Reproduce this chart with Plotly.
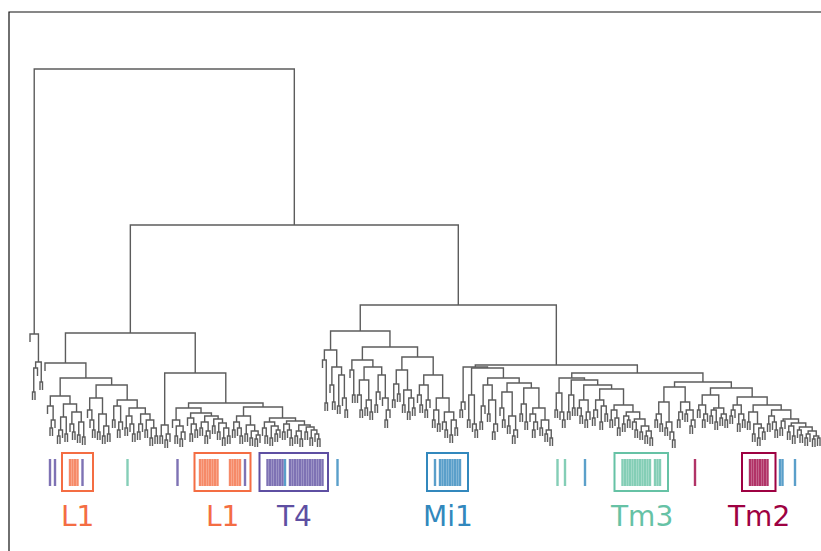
import plotly.graph_objects as go

# ---------------- data: dendrogram (Newick-like, 'o' = leaf, number = merge height) -------------
A = "(o,(((o,o)58,o)82,(o,o)68)88)116"

BL2a_L = "(o,((o,o)22,o)30)44"
BL2a_R1 = "(((o,o)14,o)20,(o,o)16)33"
BL2a_R2 = "((o,(o,o)18)26,((o,o)15,(o,o)13)28)38"
BL2b_Q1 = "((o,(o,(o,o)20)30)40,((o,o)18,((o,o)14,(o,o)16)24)36)52"
BL2b_Q2a = "((o,o)30,((o,o)20,o)28)44"
BL2b_Q2b = "(((o,o)22,(o,(o,o)16)26)34,(((o,o)18,o)26,((o,o)20,((o,o)12,(o,o)14)22)30)36)42"

BRL = "((o,o)14,((o,o)10,o)16)25"
S1a = "(o,((o,o)14,((o,o)11,o)18)24)30"
S1b = "((o,((o,o)16,(o,o)20)26)32,(((o,o)22,((o,o)14,o)19)28,((o,o)24,((o,o)18,((o,o)12,(o,o)14)22)27)31)34)37"
S2a = "(((o,o)20,(o,(o,o)14)22)28,((o,o)16,((o,o)12,((o,o)11,o)15)19)25)34"
S2b1 = "((o,(o,o)14)22,((o,o)12,((o,o)16,o)20)24)28"
S2b2 = "(((o,o)18,(o,(o,o)12)20)26,(((o,o)14,(o,o)11)19,((o,o)18,((o,o)12,(o,(o,o)11)16)20)23)25)29"

C1a_L = "(o,(o,o)47)90"
C1a_R1 = "(o,(o,o)48)65"
C1a_R2 = "((o,o)44,(o,(o,o)40)52)75"
C1b_L1 = "(o,(o,o)55)80"
C1b_L2a = "((o,(o,o)40)55,((o,o)42,(o,o)38)50)70"
C1b_L2b = "(((o,o)45,o)58,(o,((o,o)30,o)40)52)75"
C1b_R1 = "(((o,o)50,(o,o)56)66,((o,o)45,((o,o)38,(o,o)42)52)60)80"
C1b_R2a = "((o,(o,o)45)55,((o,o)40,o)50)65"
C1b_R2b = "(((o,o)30,(o,o)26)40,((o,(o,o)20)28,((o,o)15,(o,o)22)30)38)52"

P = "((o,o)40,o)48"
S_ = "((o,o)30,(o,(o,o)20)26)55"
T1 = "(((o,o)28,o)44,((o,o)36,((o,o)18,o)26)50)65"
T2a = "((o,(o,o)30)42,((o,o)24,((o,o)14,o)20)34)58"
T2b = "(((o,o)36,(o,o)28)46,((o,((o,o)20,o)28)36,((o,o)22,((o,o)16,(o,o)12)20)30)42)62"

U1 = "((o,o)40,(o,(o,o)30)38)57"
U2a = "((o,o)38,(o,o)42)55"
U2b1 = "((o,(o,o)34)42,((o,o)30,o)38)50"
U2b2a = "(((o,o)32,o)40,((o,o)28,(o,o)36)44)50"
U2b2b = "(((o,o)30,(o,(o,o)22)32)40,(((o,o)26,(o,o)30)34,((o,(o,o)20)28,((o,o)18,((o,o)14,(o,o)12)19)24)31)38)45"

V1a = "(((o,o)30,(o,o)26)36,((o,o)22,(o,(o,o)10)18)28)48"
V1b = "(((o,o)30,o)38,((o,o)36,((o,o)24,o)30)40)48"
V2a = "(((o,o)40,((o,o)30,o)36)45,(((o,o)34,(o,o)28)40,((o,o)32,(o,o)30)36)42)55"
V2b1 = "(((o,o)34,o)40,((o,o)26,(o,o)30)36)45"
Wa = "((o,o)28,((o,o)16,((o,o)12,(o,o)18)22)26)38"
Wb = "(((o,o)26,(o,(o,o)20)28)34,(((o,o)22,o)29,(((o,o)18,(o,o)14)24,((o,(o,o)15)20,(((o,o)12,o)16,((o,o)11,(o,o)12)14)19)23)27)31)40"

BL = f"(o,(({BL2a_L},({BL2a_R1},{BL2a_R2})46)54,({BL2b_Q1},({BL2b_Q2a},{BL2b_Q2b})50)65)72)87"
BR = f"({BRL},(({S1a},{S1b})42,({S2a},({S2b1},{S2b2})32)43)47)77"
C1a = f"({C1a_L},({C1a_R1},{C1a_R2})83)100"
C1 = f"({C1a},(({C1b_L1},({C1b_L2a},{C1b_L2b})83)90,({C1b_R1},({C1b_R2a},{C1b_R2b})75)93)103)119"
C2a = f"({P},({S_},({T1},({T2a},{T2b})67)72)82)83"
U = f"({U1},({U2a},({U2b1},({U2b2a},{U2b2b})61)65)70)72"
V = f"(({V1a},{V1b})63,({V2a},({V2b1},({Wa},{Wb})45)53)62)68"
C2 = f"({C2a},({U},{V})77)85"
B = f"({BL},{BR})117"
C = f"({C1},{C2})145"
TREE = f"({A},({B},{C})225)381"

# ---------------- data: labelled leaves (leaf index) per cell type ----------------
cell_types = ["L1", "T4", "Mi1", "Tm3", "Tm2"]
type_colors = {"L1": "#f46d43", "T4": "#5e4fa2", "Mi1": "#3288bd", "Tm3": "#66c2a5", "Tm2": "#9e0142"}
L1_leaves = [16, 17, 18, 19, 68, 69, 70, 71, 72, 73, 74, 75, 80, 81, 82, 83, 84]
T4_leaves = [8, 10, 21, 59, 86, 95, 96, 97, 98, 99, 100, 101,
             104, 105, 106, 107, 108, 109, 110, 111, 112, 113, 114, 115, 116, 117]
Mi1_leaves = [102, 123, 162, 164, 165, 166, 167, 168, 169, 170, 171, 172, 222, 300, 301, 306]
Tm3_leaves = [39, 211, 214, 237, 238, 239, 240, 241, 242, 243, 244, 245, 246, 247, 248, 250, 251, 252]
Tm2_leaves = [266, 288, 289, 290, 291, 292, 293, 294, 295]
leaves_by_type = {"L1": L1_leaves, "T4": T4_leaves, "Mi1": Mi1_leaves, "Tm3": Tm3_leaves, "Tm2": Tm2_leaves}

# boxed clusters: label, first leaf, last leaf
box_labels = ["L1", "L1", "T4", "Mi1", "Tm3", "Tm2"]
box_first = [13, 66, 92, 159, 234, 285]
box_last = [25, 88, 119, 175, 255, 298]

# ---------------- build dendrogram ----------------
STUB = 8.0


def parse(s):
    s = "".join(s.split())
    pos = 0

    def node():
        nonlocal pos
        if s[pos] == "o":
            pos += 1
            return None
        pos += 1  # '('
        left = node()
        pos += 1  # ','
        right = node()
        pos += 1  # ')'
        start = pos
        while pos < len(s) and (s[pos].isdigit() or s[pos] == "."):
            pos += 1
        return (float(s[start:pos]), left, right)

    return node()


tree = parse(TREE)
xs, ys = [], []
counter = [0]


def draw(n):
    if n is None:
        i = counter[0]
        counter[0] += 1
        return float(i), None
    h, l, r = n
    xl, hl = draw(l)
    xr, hr = draw(r)
    if hl is None:
        hl = h - STUB
    if hr is None:
        hr = h - STUB
    xs.extend([xl, xl, xr, xr, None])
    ys.extend([hl, h, h, hr, None])
    return (xl + xr) / 2.0, h


draw(tree)

fig = go.Figure()
fig.add_trace(go.Scatter(x=xs, y=ys, mode="lines", line=dict(color="#5c5c5c", width=1.4),
                         hoverinfo="skip", showlegend=False))

TICK_TOP, TICK_BOT = -9, -36
for t in cell_types:
    tx, ty = [], []
    for i in leaves_by_type[t]:
        tx.extend([i, i, None])
        ty.extend([TICK_TOP, TICK_BOT, None])
    fig.add_trace(go.Scatter(x=tx, y=ty, mode="lines", line=dict(color=type_colors[t], width=2.4),
                             opacity=0.8, hoverinfo="skip", showlegend=False))

for lab, a, b in zip(box_labels, box_first, box_last):
    col = type_colors[lab]
    fig.add_shape(type="rect", xref="x", yref="y", x0=a - 0.2, x1=b + 0.2, y0=-3, y1=-41,
                  line=dict(color=col, width=2), fillcolor="rgba(0,0,0,0)")
    fig.add_annotation(x=(a + b) / 2.0, y=-66, xref="x", yref="y", text=lab, showarrow=False,
                       font=dict(family="DejaVu Sans", size=28, color=col),
                       xanchor="center", yanchor="middle")

# frame (top and left edges visible; the others run off the canvas)
fig.add_shape(type="rect", xref="x", yref="y", x0=-8.4, x1=340, y0=438, y1=-200,
              line=dict(color="#111111", width=1.2), fillcolor="rgba(0,0,0,0)")

fig.update_layout(width=821, height=551, margin=dict(l=0, r=0, t=0, b=0),
                  paper_bgcolor="white", plot_bgcolor="white", hovermode=False)
fig.update_xaxes(range=[-12, 316.4], visible=False)
fig.update_yaxes(range=[-101, 450], visible=False)
fig.write_html("out.html", config={"displayModeBar": False, "staticPlot": True},
               post_script="document.body.style.margin='0px';document.body.style.overflow='hidden';")
